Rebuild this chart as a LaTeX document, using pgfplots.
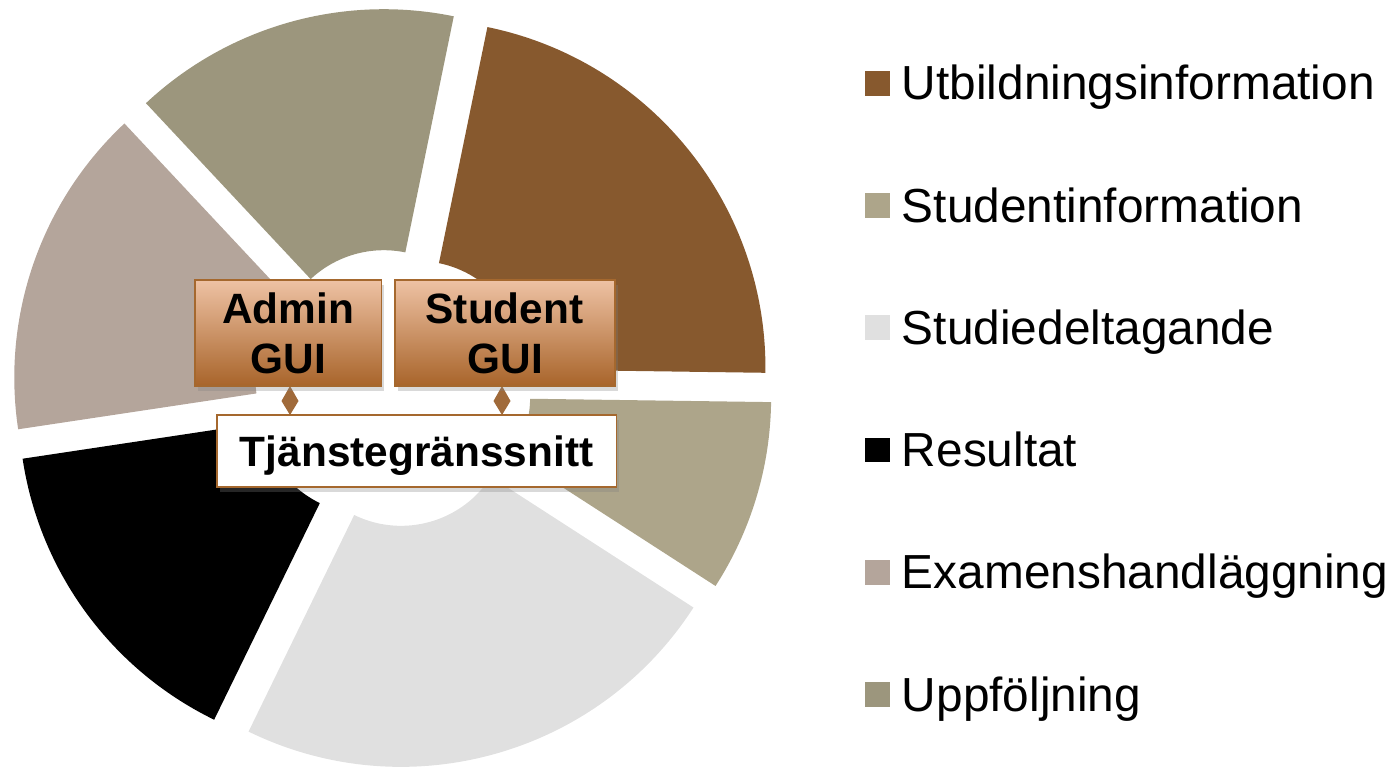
\documentclass[border=0pt]{standalone}
\usepackage{fontspec}
\setmainfont{Liberation Sans}
\usepackage{pgfplots}
\pgfplotsset{compat=1.18}
\usetikzlibrary{calc,shadows}

\definecolor{cUtb}{RGB}{135,89,46}
\definecolor{cStu}{RGB}{173,165,138}
\definecolor{cDel}{RGB}{224,224,224}
\definecolor{cRes}{RGB}{0,0,0}
\definecolor{cExa}{RGB}{180,165,155}
\definecolor{cUpp}{RGB}{156,150,125}
\definecolor{boxtop}{RGB}{238,194,164}
\definecolor{boxbot}{RGB}{168,100,42}
\definecolor{boxline}{RGB}{165,104,46}
\definecolor{diam}{RGB}{160,106,58}

\begin{document}
\begin{tikzpicture}[x=0.5pt,y=0.5pt]
\useasboundingbox (0,0) rectangle (1390,766);
\begin{axis}[
  at={(0,0)}, anchor=origin,
  width=695pt, height=383pt, scale only axis,
  xmin=0, xmax=1390, ymin=0, ymax=766,
  hide axis, clip=true,
]
% doughnut: share (%) / colour, clockwise from 78.4 degrees
\xdef\curang{78.4}
\foreach \val/\col in {22/cUtb, 8.9/cStu, 23.1/cDel, 15.4/cRes, 15.4/cExa, 15.2/cUpp}{
  \pgfmathsetmacro\aone{\curang}
  \pgfmathsetmacro\atwo{\curang-3.6*\val}
  \pgfmathsetmacro\bis{(\aone+\atwo)/2}
  \pgfmathsetmacro\ox{392.5+32*cos(\bis)}
  \pgfmathsetmacro\oy{378+32*sin(\bis)}
  \edef\temp{\noexpand\fill[\col] ($(axis cs:\ox,\oy)+(\aone:174pt)$) arc[start angle=\aone, end angle=\atwo, radius=174pt] -- ($(axis cs:\ox,\oy)+(\atwo:53.5pt)$) arc[start angle=\atwo, end angle=\aone, radius=53.5pt] -- cycle;}
  \temp
  \xdef\curang{\atwo}
}
% connectors
\fill[diam] (axis cs:281.5,365) -- (axis cs:290,380) -- (axis cs:298.5,365) -- (axis cs:290,351) -- cycle;
\fill[diam] (axis cs:493.5,365) -- (axis cs:502,380) -- (axis cs:510.5,365) -- (axis cs:502,351) -- cycle;
% boxes
\node[draw=boxline, line width=0.8pt, top color=boxtop, bottom color=boxbot,
  minimum width=93.25pt, minimum height=53pt, inner sep=0pt,
  drop shadow={opacity=0.3, shadow xshift=1.5pt, shadow yshift=-2.5pt}] at (axis cs:288.2,433) {};
\node[draw=boxline, line width=0.8pt, top color=boxtop, bottom color=boxbot,
  minimum width=110pt, minimum height=53pt, inner sep=0pt,
  drop shadow={opacity=0.3, shadow xshift=1.5pt, shadow yshift=-2.5pt}] at (axis cs:505,433) {};
\node[draw=boxline, line width=0.8pt, fill=white,
  minimum width=199.75pt, minimum height=36pt, inner sep=0pt,
  drop shadow={opacity=0.3, shadow xshift=1.5pt, shadow yshift=-2.5pt}] at (axis cs:416.7,315) {};
\begin{scope}[every node/.style={inner sep=0pt, anchor=base, font=\fontsize{21.2}{25}\selectfont\bfseries}]
\node at (axis cs:288.2,442.7) {Admin};
\node at (axis cs:288.6,392.7) {GUI};
\node at (axis cs:504.5,442.7) {Student};
\node at (axis cs:505.5,392.7) {GUI};
\node at (axis cs:416.6,299.3) {Tjänstegränssnitt};
\end{scope}
% legend
\begin{scope}[every node/.style={inner sep=0pt, anchor=base west, font=\fontsize{23.9}{28}\selectfont}]
\fill[cUtb] (axis cs:865,670.3) rectangle (axis cs:890,695);
\node at (axis cs:901.5,666) {Utbildningsinformation};
\fill[cStu] (axis cs:865,548.1) rectangle (axis cs:890,572.8);
\node at (axis cs:901.5,543.8) {Studentinformation};
\fill[cDel] (axis cs:865,425.9) rectangle (axis cs:890,450.6);
\node at (axis cs:901.5,421.6) {Studiedeltagande};
\fill[cRes] (axis cs:865,303.7) rectangle (axis cs:890,328.4);
\node at (axis cs:901.5,299.4) {Resultat};
\fill[cExa] (axis cs:865,181.5) rectangle (axis cs:890,206.2);
\node at (axis cs:901.5,177.2) {Examenshandläggning};
\fill[cUpp] (axis cs:865,59.3) rectangle (axis cs:890,84);
\node at (axis cs:901.5,55) {Uppföljning};
\end{scope}
\end{axis}
\end{tikzpicture}
\end{document}
